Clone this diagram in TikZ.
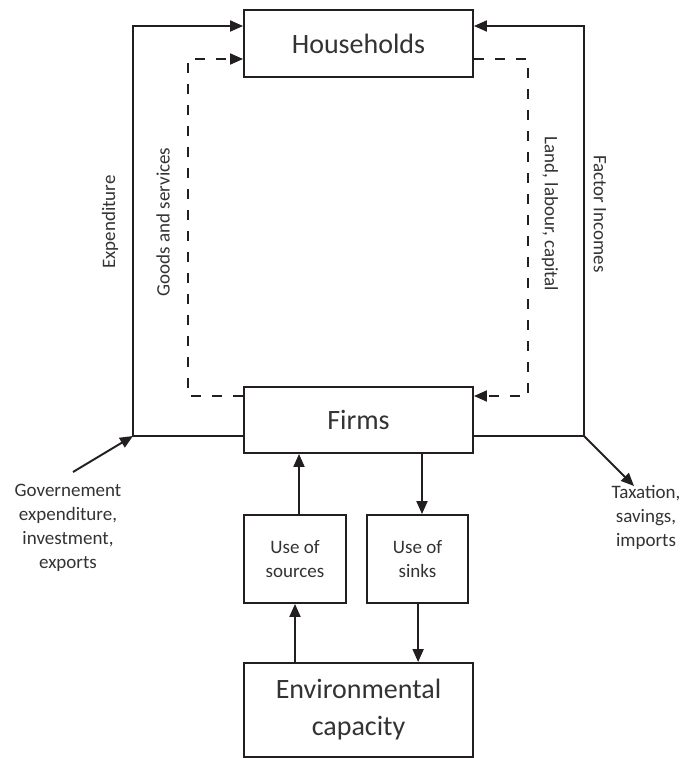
\documentclass[tikz,border=0pt]{standalone}
\usepackage{fontspec}
\setmainfont{Carlito}
\usetikzlibrary{arrows.meta}
\definecolor{ink}{HTML}{231F20}
\definecolor{txt}{HTML}{333333}
\tikzset{
  box/.style={draw=ink, line width=1.9pt, fill=white, text=txt, align=center, inner sep=0pt},
  bigtxt/.style={font=\fontsize{28}{33}\selectfont},
  smalltxt/.style={font=\fontsize{19}{24}\selectfont, text=txt, align=center},
  arr/.style={draw=ink, line width=1.9pt, -{Triangle[length=13pt,width=11pt]}},
  darr/.style={draw=ink, line width=1.9pt, dash pattern=on 10pt off 11pt, -{Triangle[length=13pt,width=11pt]}},
}
\begin{document}
\begin{tikzpicture}[x=1pt,y=-1pt]
\useasboundingbox (0,0) rectangle (681,758);

% boxes
\node[box,bigtxt,minimum width=229pt,minimum height=67pt] (households) at (358.5,43.5) {Households};
\node[box,bigtxt,minimum width=229pt,minimum height=66pt] (firms) at (358.5,420) {Firms};
\node[box,smalltxt,minimum width=102pt,minimum height=88pt] (sources) at (295,559) {Use of\\sources};
\node[box,smalltxt,minimum width=101pt,minimum height=88pt] (sinks) at (417.5,559) {Use of\\sinks};
\node[box,bigtxt,minimum width=229pt,minimum height=94pt,font=\fontsize{28}{37}\selectfont] (env) at (358.5,710) {Environmental\\capacity};

% corner coordinates
\coordinate (gl) at (133,436);
\coordinate (tl) at (133,26);
\coordinate (gr) at (584,436);
\coordinate (tr) at (584,26);
\coordinate (dl) at (188,396);
\coordinate (dtl) at (188,59);
\coordinate (dr) at (528,396);
\coordinate (dtr) at (528,59);
\coordinate (gs) at (73,472);
\coordinate (tx) at (634,486);

% outer solid loops
\draw[arr] (firms.west |- gl) -- (gl) -- (tl) -- (households.west |- tl);
\draw[arr] (firms.east |- gr) -- (gr) -- (tr) -- (households.east |- tr);
% dashed loops
\draw[darr] (firms.west |- dl) -- (dl) -- (dtl) -- (households.west |- dtl);
\draw[darr] (households.east |- dtr) -- (dtr) -- (dr) -- (firms.east |- dr);

% side arrows
\draw[arr] (gs) -- (gl);
\draw[arr] (gr) -- (tx);

% labels
\node[smalltxt] (govt) at (68,528) {Governement\\expenditure,\\investment,\\exports};
\node[smalltxt] (tax) at (646,517) {Taxation,\\savings,\\imports};
\node[smalltxt,rotate=90] (expend) at (110,222) {Expenditure};
\node[smalltxt,rotate=90] (goods) at (163,222) {Goods and services};
\node[smalltxt,rotate=-90] (land) at (550,214) {Land, labour, capital};
\node[smalltxt,rotate=-90] (factor) at (600,214) {Factor Incomes};

% lower flows
\draw[arr] ([xshift=4pt]sources.north) -- ([xshift=4pt]sources.north |- firms.south);
\draw[arr] (env.north -| sources.south) -- (sources.south);
\draw[arr] ([xshift=4.5pt]sinks.north |- firms.south) -- ([xshift=4.5pt]sinks.north);
\draw[arr] ([xshift=0.6pt]sinks.south) -- ([xshift=0.6pt]sinks.south |- env.north);
\end{tikzpicture}
\end{document}
